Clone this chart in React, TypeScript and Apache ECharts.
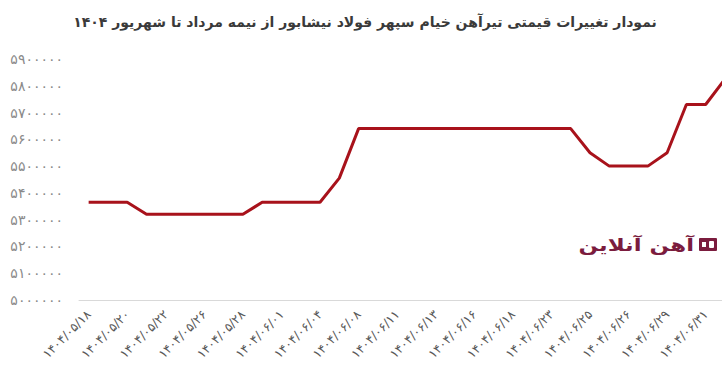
import React, { useEffect, useRef } from "react";
import * as echarts from "echarts";

const titleText = "نمودار تغییرات قیمتی تیرآهن خیام سپهر فولاد نیشابور از نیمه مرداد تا شهریور ۱۴۰۴";
const logoText = "آهن آنلاین";

const categories = [
  "۱۴۰۴/۰۵/۱۸", "۱۴۰۴/۰۵/۱۹", "۱۴۰۴/۰۵/۲۰", "۱۴۰۴/۰۵/۲۱", "۱۴۰۴/۰۵/۲۲", "۱۴۰۴/۰۵/۲۵",
  "۱۴۰۴/۰۵/۲۶", "۱۴۰۴/۰۵/۲۷", "۱۴۰۴/۰۵/۲۸", "۱۴۰۴/۰۵/۲۹", "۱۴۰۴/۰۶/۰۱", "۱۴۰۴/۰۶/۰۲",
  "۱۴۰۴/۰۶/۰۴", "۱۴۰۴/۰۶/۰۵", "۱۴۰۴/۰۶/۰۸", "۱۴۰۴/۰۶/۰۹", "۱۴۰۴/۰۶/۱۱", "۱۴۰۴/۰۶/۱۲",
  "۱۴۰۴/۰۶/۱۳", "۱۴۰۴/۰۶/۱۵", "۱۴۰۴/۰۶/۱۶", "۱۴۰۴/۰۶/۱۷", "۱۴۰۴/۰۶/۱۸", "۱۴۰۴/۰۶/۱۹",
  "۱۴۰۴/۰۶/۲۳", "۱۴۰۴/۰۶/۲۴", "۱۴۰۴/۰۶/۲۵", "۱۴۰۴/۰۶/۲۵", "۱۴۰۴/۰۶/۲۶", "۱۴۰۴/۰۶/۲۷",
  "۱۴۰۴/۰۶/۲۹", "۱۴۰۴/۰۶/۳۰", "۱۴۰۴/۰۶/۳۱", "۱۴۰۴/۰۷/۰۱",
];

const prices = [
  5365000, 5365000, 5365000, 5320000, 5320000, 5320000,
  5320000, 5320000, 5320000, 5365000, 5365000, 5365000,
  5365000, 5455000, 5640000, 5640000, 5640000, 5640000,
  5640000, 5640000, 5640000, 5640000, 5640000, 5640000,
  5640000, 5640000, 5550000, 5500000, 5500000, 5500000,
  5550000, 5730000, 5730000, 5825000,
];

const yMin = 5000000;
const yMax = 5900000;
const yStep = 100000;

const toPersianDigits = (s: string) => s.replace(/[0-9]/g, (d) => "۰۱۲۳۴۵۶۷۸۹"[Number(d)]);

export default function App() {
  const ref = useRef<HTMLDivElement>(null);
  useEffect(() => {
    if (!ref.current) return;
    const chart = echarts.init(ref.current, undefined, { renderer: "svg" });
    chart.setOption({
      animation: false,
      backgroundColor: "#ffffff",
      textStyle: { fontFamily: "DejaVu Sans" },
      grid: { left: 79, right: 15.4, top: 59, bottom: 80 },
      xAxis: {
        type: "category",
        data: categories,
        boundaryGap: true,
        axisLine: { show: true, lineStyle: { color: "#d9d9d9", width: 1 } },
        axisTick: { show: false },
        axisLabel: {
          interval: 1,
          rotate: 45,
          margin: 12,
          color: "#595959",
          fontSize: 12.5,
          fontFamily: "DejaVu Sans",
        },
        splitLine: { show: false },
      },
      yAxis: {
        type: "value",
        min: yMin,
        max: yMax,
        interval: yStep,
        axisLine: { show: false },
        axisTick: { show: false },
        splitLine: { show: false },
        axisLabel: {
          margin: 16,
          color: "#8a8a8a",
          fontSize: 14,
          fontFamily: "DejaVu Sans",
          formatter: (v: number) => toPersianDigits(String(v)),
        },
      },
      series: [
        {
          type: "line",
          data: prices,
          symbol: "none",
          lineStyle: { color: "#a8121b", width: 3 },
          itemStyle: { color: "#a8121b" },
        },
      ],
      graphic: [
        {
          type: "text",
          x: 365,
          y: 22,
          style: {
            text: titleText,
            fill: "#3a3a3a",
            font: "bold 14px 'DejaVu Sans'",
            textAlign: "center",
            textVerticalAlign: "middle",
          },
        },
        {
          type: "text",
          x: 694,
          y: 245,
          scaleX: 1.35,
          style: {
            text: logoText,
            fill: "#7b1c3e",
            font: "bold 17px 'DejaVu Sans'",
            textAlign: "right",
            textVerticalAlign: "middle",
          },
        },
        { type: "rect", shape: { x: 699, y: 238, width: 18, height: 13, r: 1 }, style: { fill: "#7b1c3e" } },
        { type: "rect", shape: { x: 702, y: 242, width: 4, height: 5 }, style: { fill: "#ffffff" } },
        { type: "rect", shape: { x: 709, y: 241, width: 5, height: 7, r: 1 }, style: { fill: "#ffffff" } },
      ],
    });
    return () => chart.dispose();
  }, []);
  return (
    <div style={{ position: "fixed", left: 0, top: 0, width: 722, height: 380, overflow: "hidden", background: "#fff" }}>
      <div ref={ref} style={{ width: 750, height: 380 }} />
    </div>
  );
}
